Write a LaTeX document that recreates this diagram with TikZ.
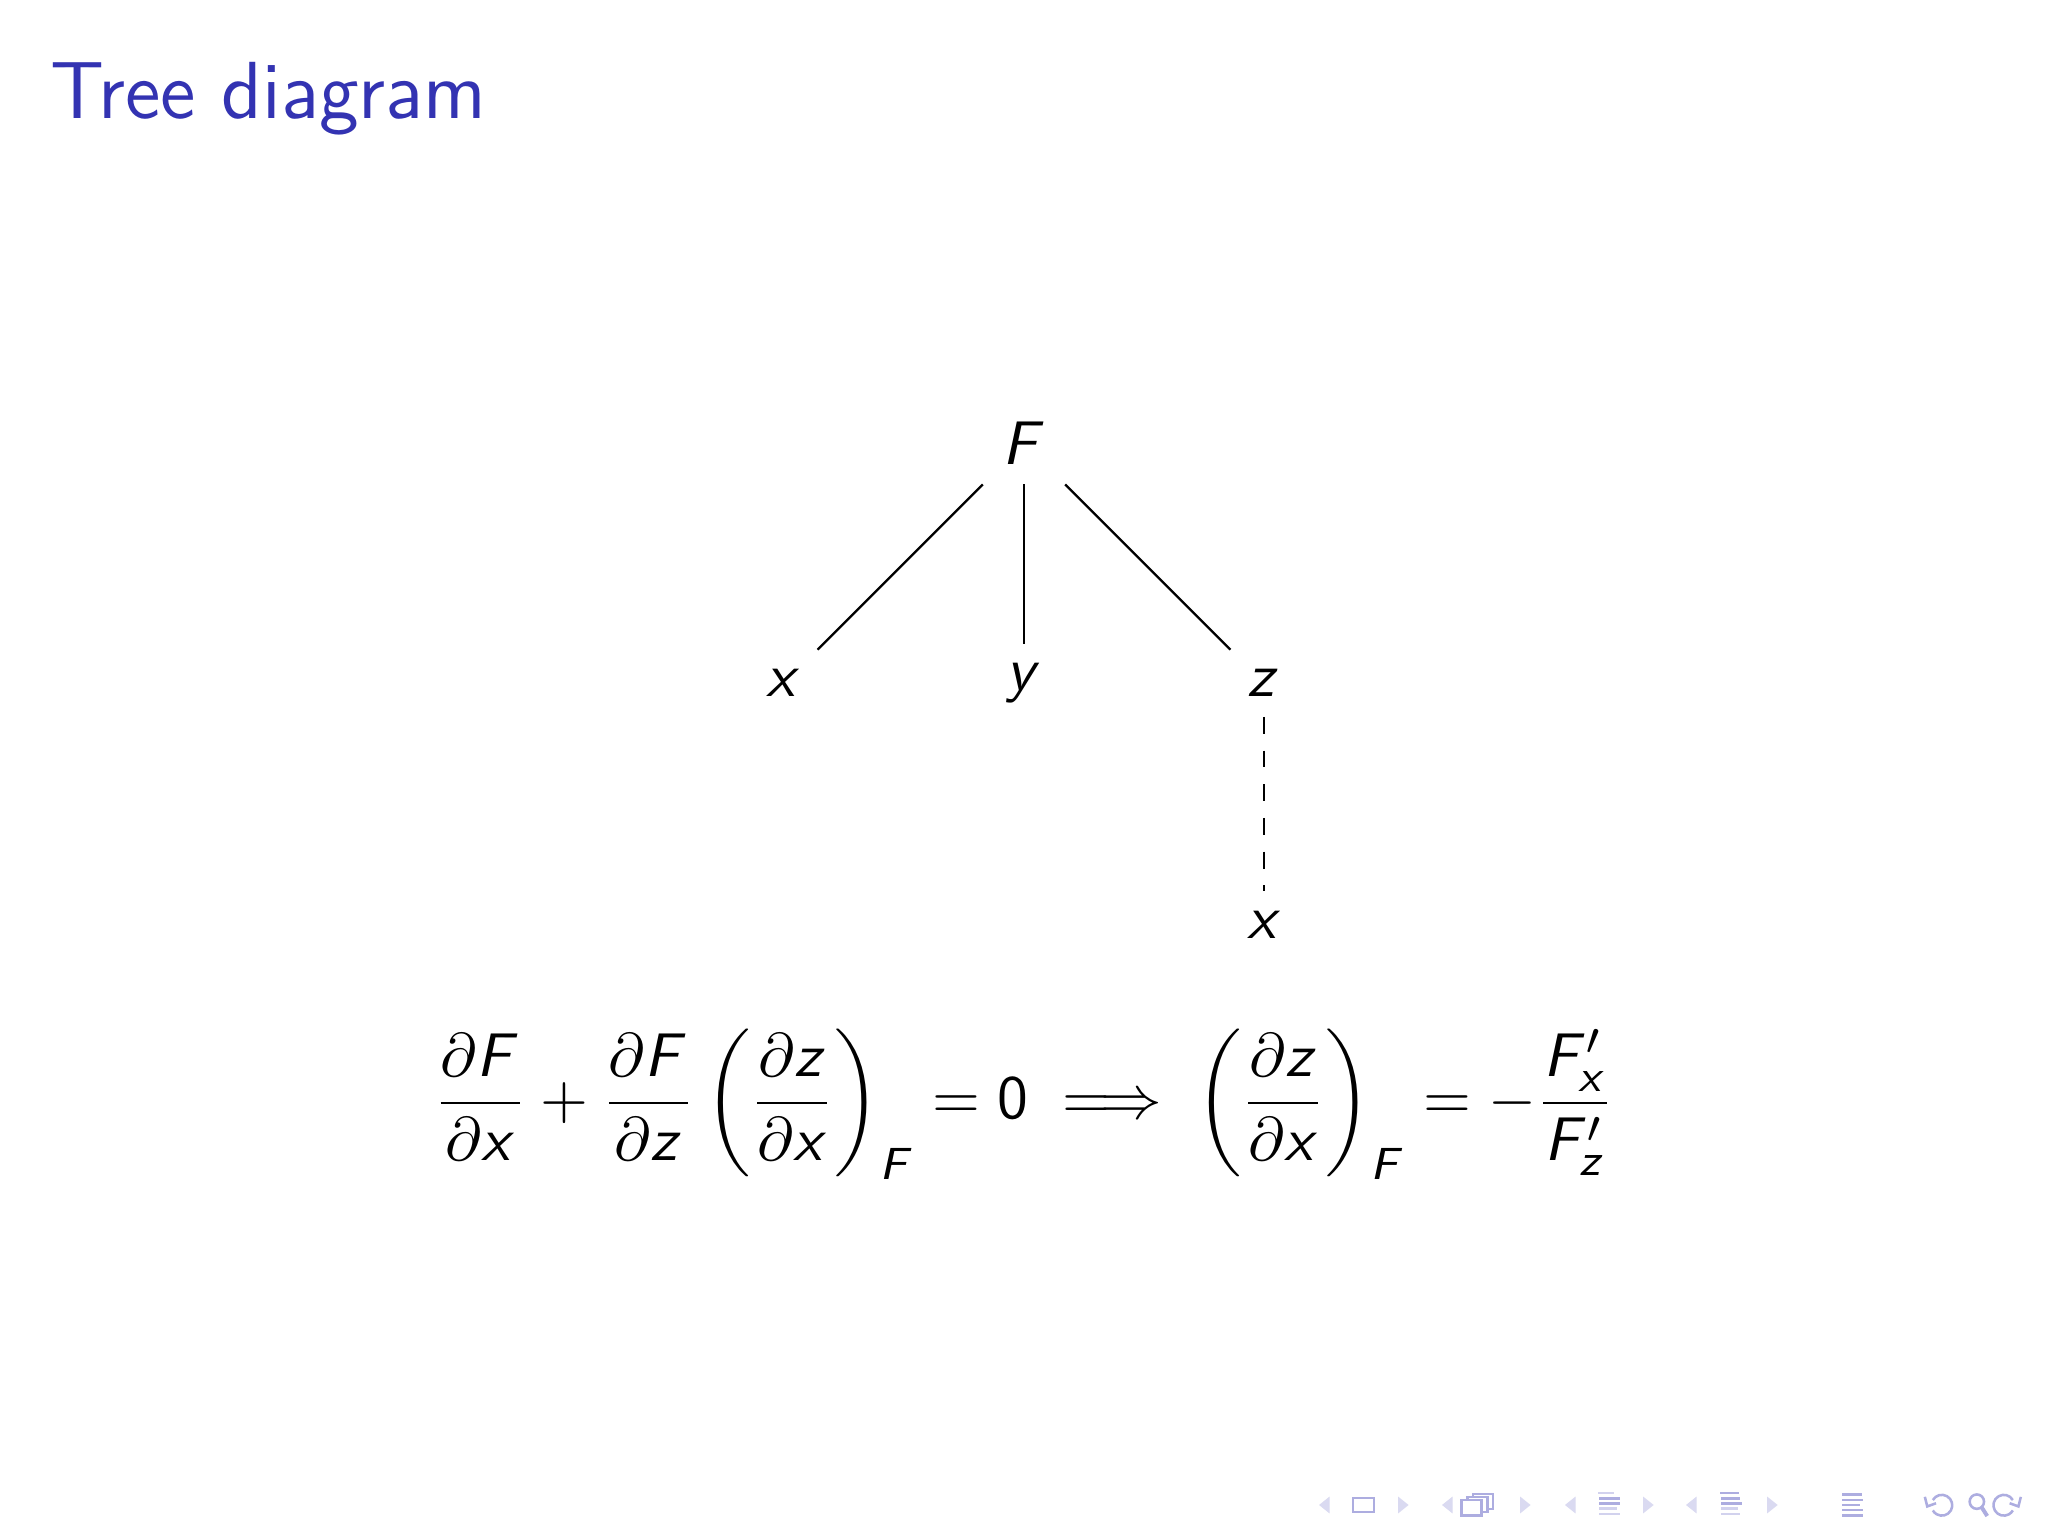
\documentclass[tikz,border=0pt]{standalone}
\usepackage{amsmath}
\DeclareSymbolFont{sfletters}{OT1}{cmss}{m}{sl}
\SetSymbolFont{operators}{normal}{OT1}{cmss}{m}{n}
\DeclareMathSymbol{F}{\mathalpha}{sfletters}{`F}
\DeclareMathSymbol{x}{\mathalpha}{sfletters}{`x}
\DeclareMathSymbol{y}{\mathalpha}{sfletters}{`y}
\DeclareMathSymbol{z}{\mathalpha}{sfletters}{`z}
\definecolor{beamerblue}{rgb}{0.2,0.2,0.7}
\colorlet{navfg}{beamerblue!40!white}
\colorlet{navtri}{beamerblue!18!white}
\colorlet{navlight}{beamerblue!22!white}
\tikzset{
  treenode/.style={font=\fontsize{11}{13}\selectfont},
  treeedge/.style={line width=0.4pt},
  subedge/.style={dashed, line width=0.4pt},
  navicon/.style={draw=navfg, line width=0.45pt},
  navbar/.style={fill=navfg},
  navbarl/.style={fill=navlight},
}
\newcommand\navL[1]{\fill[navtri] (#1,0.194) -- ++(0.066,0.053) -- ++(0,-0.106) -- cycle;}
\newcommand\navR[1]{\fill[navtri] (#1+0.066,0.194) -- ++(-0.066,0.053) -- ++(0,-0.106) -- cycle;}
\newcommand\navbarat[4]{\fill[#4] (#1,#2) rectangle ++(#3,0.016);}
\begin{document}
\begin{tikzpicture}
\fill[white] (0,0) rectangle (12.8,9.6);
\useasboundingbox (0,0) rectangle (12.8,9.6);
% title
\node[anchor=base west, inner sep=0, text=beamerblue,
      font=\sffamily\fontsize{14.4}{18}\selectfont] (title) at (0.31,8.862) {Tree diagram};
% tree
\node[treenode] (F)  at (6.40,6.83) {$F$};
\node[treenode] (x1) at (4.90,5.33) {$x$};
\node[treenode] (y1) at (6.40,5.33) {$y$};
\node[treenode] (z1) at (7.90,5.33) {$z$};
\node[treenode] (x2) at (7.90,3.82) {$x$};
\draw[treeedge] (F) -- (x1);
\draw[treeedge] (F) -- (y1);
\draw[treeedge] (F) -- (z1);
\draw[subedge] (z1) -- (x2);
% equation
\node[treenode, anchor=base, inner sep=0] (eq) at (6.40,2.61)
  {$\displaystyle \frac{\partial F}{\partial x}+\frac{\partial F}{\partial z}\left(\frac{\partial z}{\partial x}\right)_F=0\implies\left(\frac{\partial z}{\partial x}\right)_F=-\frac{F'_x}{F'_z}$};
% navigation symbols
\navL{8.244}
\draw[navicon] (8.456,0.150) rectangle (8.588,0.238);
\navR{8.7375}
\navL{9.0125}
\draw[navicon,fill=white] (9.205,0.168) rectangle (9.330,0.262);
\draw[navicon,fill=white] (9.205-0.035,0.149) rectangle (9.330-0.035,0.243);
\draw[navicon,fill=white] (9.205-0.07,0.130) rectangle (9.330-0.07,0.224);
\navR{9.5}
\navL{9.781}
\navbarat{9.99}{0.262}{0.10}{navlight}
\navbarat{9.995}{0.228}{0.13}{navbar}
\navbarat{9.995}{0.196}{0.13}{navbar}
\navbarat{9.995}{0.163}{0.11}{navlight}
\navbarat{9.995}{0.130}{0.13}{navlight}
\navR{10.269}
\navL{10.5375}
\navbarat{10.75}{0.262}{0.12}{navbar}
\navbarat{10.755}{0.228}{0.12}{navbar}
\navbarat{10.755}{0.196}{0.13}{navbar}
\navbarat{10.755}{0.163}{0.11}{navlight}
\navbarat{10.755}{0.130}{0.12}{navlight}
\navR{11.044}
\navbarat{11.515}{0.250}{0.12}{navbar}
\navbarat{11.515}{0.218}{0.13}{navbar}
\navbarat{11.515}{0.186}{0.11}{navbar}
\navbarat{11.515}{0.154}{0.13}{navbar}
\navbarat{11.515}{0.122}{0.13}{navbar}
% undo, search, redo
\draw[navicon] (12.08,0.225) arc (150:-150:0.065) ;
\draw[navicon] (12.03,0.245) -- (12.045,0.185) -- (12.10,0.205);
\draw[navicon] (12.355,0.215) circle (0.045);
\draw[navicon, line width=0.7pt] (12.385,0.180) -- (12.42,0.125);
\draw[navicon] (12.58,0.225) arc (30:330:0.065);
\draw[navicon] (12.63,0.245) -- (12.615,0.185) -- (12.56,0.205);
\end{tikzpicture}
\end{document}
